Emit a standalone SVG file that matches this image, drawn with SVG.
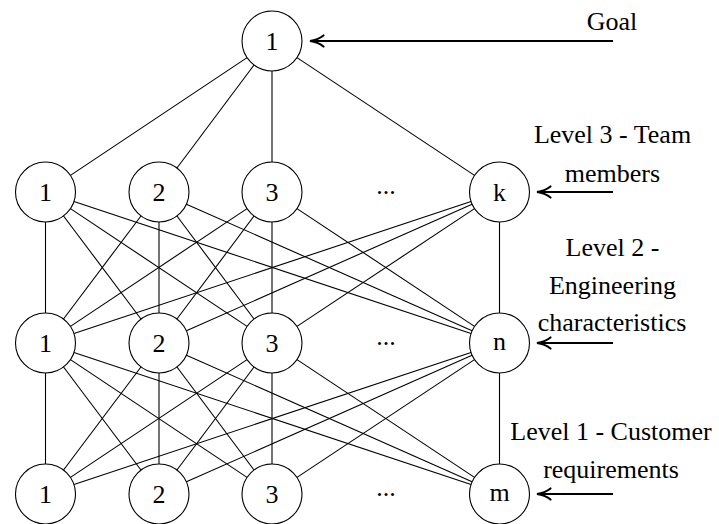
<svg xmlns="http://www.w3.org/2000/svg" width="719" height="524" viewBox="0 0 719 524">
  <style>
    .node circle { fill: #fff; stroke: #000; stroke-width: 1.1; }
    .node text, .lbl, .dots { font-family: "Liberation Serif", "Times New Roman", serif; font-size: 26px; fill: #000; }
    .node text { text-anchor: middle; }
    .lbl { text-anchor: middle; }
    .dots { text-anchor: middle; }
    #connectors line { stroke: #000; stroke-width: 1.1; }
    #pointers line { stroke: #000; stroke-width: 2.2; marker-end: url(#head); }
  </style>
  <defs>
    <marker id="head" markerUnits="userSpaceOnUse" orient="auto" refX="0" refY="0" markerWidth="20" markerHeight="20" overflow="visible">
      <path d="M-12.5,-5.5 C-8,-2 -3.5,-0.6 1,0 C-3.5,0.6 -8,2 -12.5,5.5" fill="none" stroke="#000" stroke-width="2.2" stroke-linecap="round"/>
    </marker>
  </defs>
  <rect width="719" height="524" fill="#fff"/>

  <g id="connectors">
    <!-- goal to level 3 -->
    <line x1="247.04" y1="57.64" x2="70.46" y2="175.36"/>
    <line x1="254.03" y1="65.02" x2="176.97" y2="167.98"/>
    <line x1="272" y1="71" x2="272" y2="162"/>
    <line x1="296.99" y1="57.59" x2="474.51" y2="175.41"/>

    <!-- level 3 to level 2 -->
    <line x1="45.5" y1="222" x2="45.5" y2="313"/>
    <line x1="63.53" y1="215.98" x2="140.97" y2="319.02"/>
    <line x1="70.46" y1="208.64" x2="247.04" y2="326.36"/>
    <line x1="73.97" y1="201.47" x2="471.03" y2="333.53"/>
    <line x1="140.97" y1="215.98" x2="63.53" y2="319.02"/>
    <line x1="159" y1="222" x2="159" y2="313"/>
    <line x1="176.97" y1="216.02" x2="254.03" y2="318.98"/>
    <line x1="186.42" y1="204.16" x2="472.08" y2="330.84"/>
    <line x1="247.04" y1="208.64" x2="70.46" y2="326.36"/>
    <line x1="254.03" y1="216.02" x2="176.97" y2="318.98"/>
    <line x1="272" y1="222" x2="272" y2="313"/>
    <line x1="296.99" y1="208.59" x2="474.51" y2="326.41"/>
    <line x1="471.03" y1="201.47" x2="73.97" y2="333.53"/>
    <line x1="472.08" y1="204.16" x2="186.42" y2="330.84"/>
    <line x1="474.51" y1="208.59" x2="296.99" y2="326.41"/>
    <line x1="499.5" y1="222" x2="499.5" y2="313"/>

    <!-- level 2 to level 1 -->
    <line x1="45.5" y1="373" x2="45.5" y2="464"/>
    <line x1="63.53" y1="366.98" x2="140.97" y2="470.02"/>
    <line x1="70.46" y1="359.64" x2="247.04" y2="477.36"/>
    <line x1="73.97" y1="352.47" x2="471.03" y2="484.53"/>
    <line x1="140.97" y1="366.98" x2="63.53" y2="470.02"/>
    <line x1="159" y1="373" x2="159" y2="464"/>
    <line x1="176.97" y1="367.02" x2="254.03" y2="469.98"/>
    <line x1="186.42" y1="355.16" x2="472.08" y2="481.84"/>
    <line x1="247.04" y1="359.64" x2="70.46" y2="477.36"/>
    <line x1="254.03" y1="367.02" x2="176.97" y2="469.98"/>
    <line x1="272" y1="373" x2="272" y2="464"/>
    <line x1="296.99" y1="359.59" x2="474.51" y2="477.41"/>
    <line x1="471.03" y1="352.47" x2="73.97" y2="484.53"/>
    <line x1="472.08" y1="355.16" x2="186.42" y2="481.84"/>
    <line x1="474.51" y1="359.59" x2="296.99" y2="477.41"/>
    <line x1="499.5" y1="373" x2="499.5" y2="464"/>
  </g>

  <!-- goal -->
  <g id="goal" class="node"><circle cx="272" cy="41" r="30"/><text x="272" y="50">1</text></g>

  <!-- level 3: team members -->
  <g id="team-1" class="node"><circle cx="45.5" cy="192" r="30"/><text x="45.5" y="201">1</text></g>
  <g id="team-2" class="node"><circle cx="159" cy="192" r="30"/><text x="159" y="201">2</text></g>
  <g id="team-3" class="node"><circle cx="272" cy="192" r="30"/><text x="272" y="201">3</text></g>
  <g id="team-k" class="node"><circle cx="499.5" cy="192" r="30"/><text x="499.5" y="201">k</text></g>

  <!-- level 2: engineering characteristics -->
  <g id="eng-1" class="node"><circle cx="45.5" cy="343" r="30"/><text x="45.5" y="352">1</text></g>
  <g id="eng-2" class="node"><circle cx="159" cy="343" r="30"/><text x="159" y="352">2</text></g>
  <g id="eng-3" class="node"><circle cx="272" cy="343" r="30"/><text x="272" y="352">3</text></g>
  <g id="eng-n" class="node"><circle cx="499.5" cy="343" r="30"/><text x="499.5" y="350">n</text></g>

  <!-- level 1: customer requirements -->
  <g id="cust-1" class="node"><circle cx="45.5" cy="494" r="30"/><text x="45.5" y="503">1</text></g>
  <g id="cust-2" class="node"><circle cx="159" cy="494" r="30"/><text x="159" y="503">2</text></g>
  <g id="cust-3" class="node"><circle cx="272" cy="494" r="30"/><text x="272" y="503">3</text></g>
  <g id="cust-m" class="node"><circle cx="499.5" cy="494" r="30"/><text x="499.5" y="501">m</text></g>

  <!-- ellipses between columns -->
  <text class="dots" x="386" y="194">...</text>
  <text class="dots" x="386" y="345">...</text>
  <text class="dots" x="386" y="496">...</text>

  <!-- level pointers -->
  <g id="pointers">
    <line x1="613" y1="41" x2="311" y2="41"/>
    <line x1="613" y1="192" x2="538" y2="192"/>
    <line x1="613" y1="343" x2="538" y2="343"/>
    <line x1="613" y1="494" x2="538" y2="494"/>
  </g>

  <!-- level labels -->
  <text class="lbl" x="612" y="30">Goal</text>
  <text class="lbl" x="612.5" y="142.5">Level 3 - Team</text>
  <text class="lbl" x="612.5" y="181.5">members</text>
  <text class="lbl" x="612.5" y="255.5">Level 2 -</text>
  <text class="lbl" x="612.5" y="293.5">Engineering</text>
  <text class="lbl" x="612" y="331">characteristics</text>
  <text class="lbl" x="611" y="439.5">Level 1 - Customer</text>
  <text class="lbl" x="611" y="477.5">requirements</text>
</svg>
